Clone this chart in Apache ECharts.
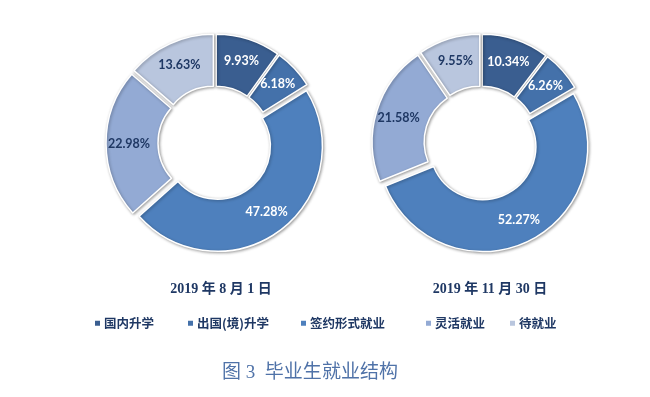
<!DOCTYPE html>
<html><head><meta charset="utf-8">
<script src="https://cdn.jsdelivr.net/npm/echarts@6/dist/echarts.min.js"></script>
<style>html,body{margin:0;padding:0;background:#fff}#c{width:650px;height:397px}</style>
</head><body><div id="c"></div>
<script>
const categories = ['国内升学', '出国(境)升学', '签约形式就业', '灵活就业', '待就业'];
const valuesAug = [9.93, 6.18, 47.28, 22.98, 13.63];
const valuesNov = [10.34, 6.26, 52.27, 21.58, 9.55];
const dateLabels = ['2019 年 8 月 1 日', '2019 年 11 月 30 日'];
const captionText = '图 3  毕业生就业结构';

const colors = ['#3a5e90', '#4471aa', '#4e80bd', '#93aad4', '#b9c6de'];
const labelColors = ['#ffffff', '#ffffff', '#ffffff', '#1f3864', '#1f3864'];
const legendLefts = [88, 181, 294, 419, 503];

function build(values) {
  return values.map((v, i) => ({
    name: categories[i], value: v, selected: true,
    itemStyle: { color: colors[i] },
    label: { color: labelColors[i] }
  }));
}
function pie(values, cx) {
  return {
    type: 'pie', center: [cx, 143], radius: [53, 105], startAngle: 90,
    selectedMode: 'multiple', selectedOffset: 4, animation: false,
    itemStyle: { borderColor: '#ffffff', borderWidth: 1.5, shadowBlur: 3, shadowColor: 'rgba(0,0,0,0.35)', shadowOffsetX: 1, shadowOffsetY: 1 },
    label: { show: true, position: 'inside', formatter: '{c}%', fontFamily: 'Lato, "Noto Sans", sans-serif', fontWeight: 'bold', fontSize: 12.5 },
    labelLine: { show: false },
    emphasis: { disabled: true },
    data: build(values)
  };
}
const dateStyle = { fontFamily: '"Liberation Serif", "Noto Sans CJK SC", serif', fontWeight: 'bold', fontSize: 14, color: '#1f3864' };
const chart = echarts.init(document.getElementById('c'));
chart.setOption({
  backgroundColor: '#ffffff',
  title: [
    { text: dateLabels[0], left: 216, top: 277, textAlign: 'center', textStyle: dateStyle },
    { text: dateLabels[1], left: 485, top: 277, textAlign: 'center', textStyle: dateStyle },
    { text: captionText, left: 305, top: 359, textAlign: 'center', textStyle: { fontFamily: '"Liberation Serif", "Noto Sans CJK SC", serif', fontWeight: 'normal', fontSize: 19, color: '#4f72a8' } }
  ],
  legend: categories.map((c, i) => ({
    data: [c], left: legendLefts[i], top: 312, icon: 'rect', itemWidth: 7, itemHeight: 7,
    selectedMode: false,
    textStyle: { fontFamily: '"Noto Sans CJK SC", sans-serif', fontWeight: 'bold', fontSize: 12.5, color: '#1f3864', padding: [0, 0, 0, -2] }
  })),
  series: [pie(valuesAug, 215), pie(valuesNov, 481)]
});
</script></body></html>
